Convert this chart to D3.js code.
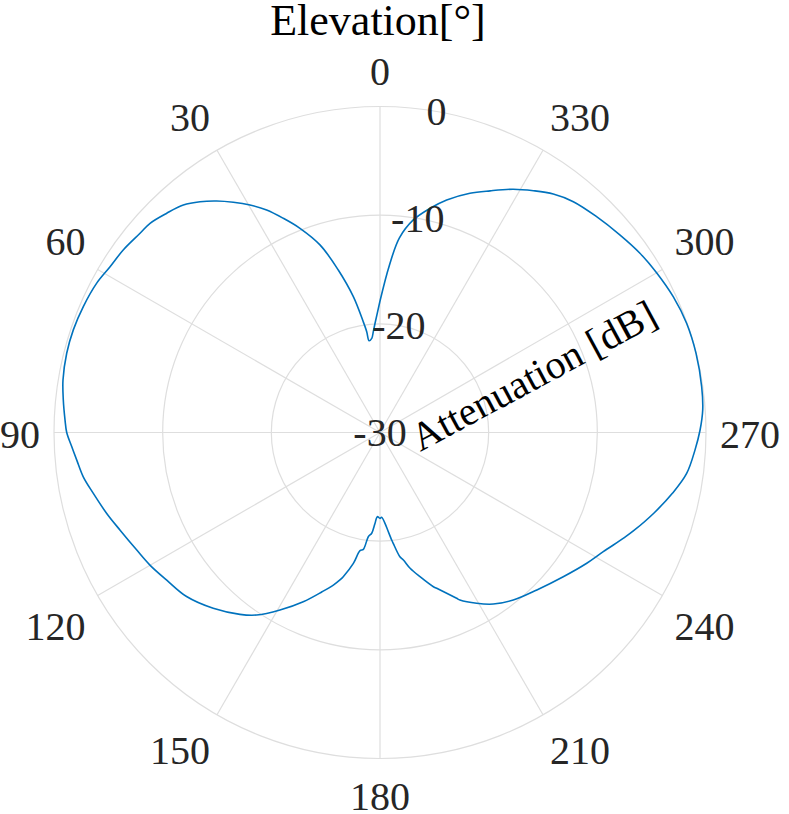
<!DOCTYPE html>
<html><head><meta charset="utf-8">
<script src="https://cdn.jsdelivr.net/npm/d3@7"></script>
<style>html,body{margin:0;padding:0;background:#fff;} svg{display:block}</style>
</head><body>
<svg id="chart" width="789" height="814"></svg>
<script>
// Elevation angle (deg, counter-clockwise from top) and attenuation (dB)
const thetaDeg = [0, 2.6, 3.8, 5.0, 6.8, 7.5, 8.6, 11.1, 14.4, 17.7, 21.4, 24.3, 27.0, 29.75, 32.5, 35.2, 37.95, 40.85, 44.2, 47.7, 50.3, 54.6, 58.45, 62.2, 67.0, 71.5, 75.8, 80.6, 84.1, 87.7, 90, 92.6, 95.2, 98.5, 102.0, 106.5, 110.6, 115.8, 120.1, 124.7, 130.3, 136.5, 142.4, 145.95, 150.6, 155.6, 160.0, 163.0, 164.8, 165.7, 168.5, 170.4, 171.9, 173.6, 175.3, 176.8, 178.2, 180, 181.1, 183.2, 184.5, 186.2, 186.8, 189.1, 190.4, 192.5, 195.5, 199.1, 200.0, 204.8, 205.5, 209.5, 213.45, 218.5, 224.9, 231.8, 237.7, 241.9, 246.8, 248.9, 253.7, 258.3, 262.4, 266.8, 270.4, 274.0, 278.1, 284.0, 289.6, 294.8, 299.9, 304.6, 309.5, 314.9, 320.05, 324.0, 327.6, 331.3, 335.5, 339.4, 344.0, 347.4, 351.1, 354.3, 356.8, 360];
const attenuation = [-17.9, -19.94, -20.7, -21.3, -21.49, -20.64, -19.69, -17.26, -14.56, -11.9, -9.82, -8.37, -7.02, -5.89, -4.88, -3.93, -3.07, -2.33, -1.85, -1.39, -1.30, -1.01, -0.85, -0.53, -0.34, -0.24, -0.26, -0.43, -0.70, -0.99, -1.17, -1.60, -1.98, -2.39, -3.03, -3.77, -4.45, -5.14, -5.58, -6.13, -6.66, -7.7, -8.88, -9.73, -11.25, -12.9, -14.4, -15.32, -15.94, -16.31, -17.71, -18.97, -19.14, -20.35, -20.7, -21.6, -22.25, -22.1, -22.2, -21.6, -21.0, -20.05, -19.73, -18.42, -18.07, -17.2, -16.23, -14.98, -14.74, -13.19, -12.92, -11.94, -11.08, -10.3, -9.55, -8.54, -7.49, -6.71, -5.5, -4.95, -3.7, -2.5, -1.53, -0.97, -0.55, -0.23, -0.1, -0.02, -0.05, -0.26, -0.6, -0.94, -1.40, -1.86, -2.29, -2.87, -3.65, -4.48, -5.56, -6.48, -7.74, -8.86, -10.2, -12.0, -14.6, -17.9];
const angleTicks = [0, 30, 60, 90, 120, 150, 180, 210, 240, 270, 300, 330];
const radialTicks = [-30, -20, -10, 0];
const titleText = "Elevation[°]";
const rLabelText = "Attenuation [dB]";

const W = 789, H = 814, cx = 380, cy = 432.5, R = 326;
const gridColor = "#dedede", textColor = "#262626", lineColor = "#0072BD";
const font = "'Liberation Serif','Times New Roman',Times,serif";
const fs = 40;

const svg = d3.select("#chart");
const g = svg.append("g").attr("transform", `translate(${cx},${cy})`);
const r = d3.scaleLinear().domain([-30, 0]).range([0, R]);
const toRad = d => d * Math.PI / 180;

// grid rings
g.selectAll("circle.ring").data(radialTicks.filter(v => v > -30)).join("circle")
  .attr("class", "ring").attr("r", d => r(d))
  .attr("fill", "none").attr("stroke", gridColor).attr("stroke-width", 1.2);

// spokes
g.selectAll("line.spoke").data(angleTicks).join("line")
  .attr("class", "spoke")
  .attr("x1", 0).attr("y1", 0)
  .attr("x2", d => -r(0) * Math.sin(toRad(d)))
  .attr("y2", d => -r(0) * Math.cos(toRad(d)))
  .attr("stroke", gridColor).attr("stroke-width", 1.2);

// data curve
const data = thetaDeg.map((t, i) => [t, attenuation[i]]);
const line = d3.lineRadial()
  .angle(d => -toRad(d[0]))
  .radius(d => r(d[1]))
  .curve(d3.curveCatmullRom.alpha(0.5));
g.append("path").datum(data)
  .attr("d", line)
  .attr("fill", "none").attr("stroke", lineColor).attr("stroke-width", 1.6)
  .attr("stroke-linejoin", "round");

// angle tick labels (box-aligned outside the outer ring)
const inkH = 27, dLab = R + 14;
angleTicks.forEach(a => {
  const t = g.append("text").text(a)
    .attr("font-family", font).attr("font-size", fs).attr("fill", textColor)
    .attr("text-anchor", "middle");
  const w2 = t.node().getComputedTextLength() / 2;
  const ux = -Math.sin(toRad(a)), uy = -Math.cos(toRad(a));
  const sx = Math.abs(ux) < 1e-6 ? 0 : Math.sign(ux);
  const sy = Math.abs(uy) < 1e-6 ? 0 : Math.sign(uy);
  const x = dLab * ux + sx * w2;
  const y = dLab * uy + (sy < 0 ? -21 : sy > 0 ? 24 : 1.5);
  t.attr("x", x).attr("y", y + inkH / 2);
});

// radial tick labels along 10° clockwise from top
const rAxisAng = toRad(10);
g.selectAll("text.rtick").data(radialTicks).join("text")
  .attr("class", "rtick")
  .attr("font-family", font).attr("font-size", fs).attr("fill", textColor)
  .attr("text-anchor", "middle")
  .attr("x", d => r(d) * Math.sin(rAxisAng))
  .attr("y", d => -r(d) * Math.cos(rAxisAng) + inkH / 2)
  .text(d => d);

// radial axis label
g.append("text").text(rLabelText)
  .attr("font-family", font).attr("font-size", fs).attr("fill", "#000")
  .attr("text-anchor", "middle")
  .attr("transform", `translate(160,-45) rotate(-28.3)`);

// title
svg.append("text").text(titleText)
  .attr("x", 378).attr("y", 35)
  .attr("font-family", font).attr("font-size", 44).attr("fill", "#000")
  .attr("text-anchor", "middle");
</script>
</body></html>
